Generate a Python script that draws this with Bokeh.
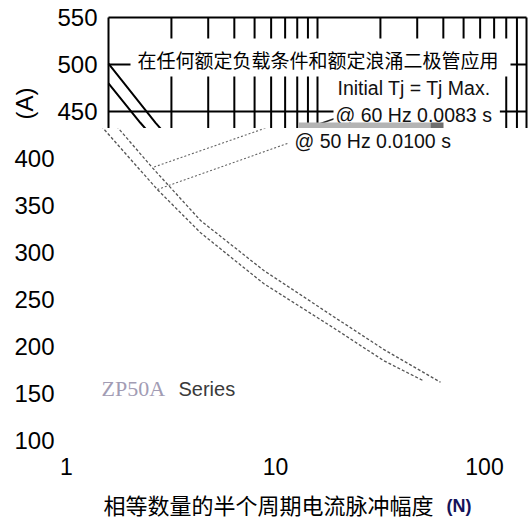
import math

from bokeh.core.properties import value
from bokeh.embed import file_html
from bokeh.layouts import column
from bokeh.models import BoxAnnotation, Label, Range1d
from bokeh.plotting import figure
from bokeh.resources import INLINE

# Peak forward surge current (A) against number of equal half-cycle pulses (N)
n_60hz = [1, 1.68, 2.58, 4.38, 8.77, 18.9, 32.9, 61.6]
a_60hz = [501, 438, 390, 334, 281, 232, 197, 162]
n_50hz = [1, 1.42, 2.72, 4.38, 8.77, 18.9, 32.9, 50.5]
a_50hz = [480, 438, 367, 321, 267, 220, 185, 164]

# leader lines from the condition texts to their curves
lead60_n = [12.5, 2.58]
lead60_a = [443.6, 390.4]
lead50_n = [11.4, 2.72]
lead50_a = [416, 367]

grid_n = [1, 2, 3, 4, 5, 6, 7, 8, 9, 10, 20, 30, 40, 50, 60, 70, 80, 90, 100]
y_ticks_top = [450, 500, 550]
y_ticks_bottom = [100, 150, 200, 250, 300, 350, 400]
x_ticks = [1, 10, 100]

DEC = 209.0   # pixels per decade on the log axis
PX_A = 0.94   # pixels per ampere
W = 528
TOP_H = 128
LOW_H = 391

SANS = "Liberation Sans"
CJK = "Noto Sans CJK SC"


def a_at(py):
    """Current value sitting at a given page row."""
    return 550 - (py - 17) / PX_A


def n_top(px):
    """Pulse count at a given column of the gridded band."""
    return 10 ** ((px - 108) / DEC)


def n_low(px):
    """Pulse count at a given column of the lower band."""
    return 10 ** ((px - 66) / DEC)


def band(height, x_range, y_range):
    p = figure(width=W, height=height, x_axis_type="log",
               x_range=x_range, y_range=y_range, min_border=0,
               x_axis_location=None, y_axis_location=None, title=None,
               output_backend="svg", toolbar_location=None)
    p.outline_line_color = None
    p.grid.visible = False
    return p


# ---- upper band: gridded area with the start of the curves ----
top = band(TOP_H, Range1d(n_top(0), n_top(W)), Range1d(a_at(TOP_H), a_at(0)))

band_floor = a_at(TOP_H)
top.segment(x0=grid_n, x1=grid_n, y0=[band_floor] * len(grid_n),
            y1=[max(y_ticks_top)] * len(grid_n), line_color="black", line_width=2)
top.segment(x0=[grid_n[0]] * len(y_ticks_top), x1=[grid_n[-1]] * len(y_ticks_top),
            y0=y_ticks_top, y1=y_ticks_top, line_color="black", line_width=2)

top.text(x=[n_top(97)] * len(y_ticks_top), y=y_ticks_top,
         text=[str(v) for v in y_ticks_top], text_align="right", text_baseline="middle",
         text_font=value(SANS), text_font_size="24px", text_color="black")
top.text(x=[n_top(24)], y=[a_at(103)], text=["(A)"], angle=math.pi / 2,
         text_align="center", text_baseline="middle",
         text_font=value(SANS), text_font_size="24px", text_color="black")

top.line(n_60hz, a_60hz, line_color="black", line_width=2)
top.line(n_50hz, a_50hz, line_color="black", line_width=2)
top.line(lead60_n, lead60_a, line_color="#222222", line_width=1.5)

top.add_layout(Label(x=n_top(130), y=a_at(57), text="在任何额定负载条件和额定浪涌二极管应用",
                     text_baseline="middle", text_font=CJK, text_font_size="19px",
                     text_color="black", background_fill_color="white",
                     padding=(7, 12, 7, 4)))
top.add_layout(Label(x=n_top(335), y=a_at(88), text="Initial Tj = Tj Max.",
                     text_baseline="middle", text_font=SANS, text_font_size="19.5px",
                     text_color="#111111", background_fill_color="white",
                     padding=(2, 10, 2, 3)))
top.add_layout(Label(x=n_top(333), y=a_at(115), text="@ 60 Hz 0.0083 s",
                     text_baseline="middle", text_font=SANS, text_font_size="19.5px",
                     text_color="#111111", background_fill_color="white",
                     padding=(2, 8, 2, 3)))
# smudged shadow under the 60 Hz note
top.add_layout(BoxAnnotation(left=n_top(298), right=n_top(430), bottom=a_at(128), top=a_at(122),
                             fill_color="#b4b4b4", fill_alpha=1, line_color=None))
top.add_layout(BoxAnnotation(left=n_top(430), right=n_top(443), bottom=a_at(128), top=a_at(122),
                             fill_color="#6e6e6e", fill_alpha=1, line_color=None))

# ---- lower band: faded curve tails, tick labels and captions ----
low = band(LOW_H, Range1d(n_low(0), n_low(W)),
           Range1d(a_at(TOP_H + LOW_H), a_at(TOP_H)))

low.line(n_60hz, a_60hz, line_color="#555555", line_width=1.3, line_dash="3 2")
low.line(n_50hz, a_50hz, line_color="#555555", line_width=1.3, line_dash="3 2")
low.line(lead60_n, lead60_a, line_color="#666666", line_width=1.1, line_dash="2 2")
low.line(lead50_n, lead50_a, line_color="#666666", line_width=1.1, line_dash="2 2")

low.text(x=[n_low(54)] * len(y_ticks_bottom), y=y_ticks_bottom,
         text=[str(v) for v in y_ticks_bottom], text_align="right", text_baseline="middle",
         text_font=value(SANS), text_font_size="24px", text_color="black")
low.text(x=x_ticks, y=[a_at(466)] * len(x_ticks), text=[str(v) for v in x_ticks],
         text_align="center", text_baseline="middle",
         text_font=value(SANS), text_font_size="23px", text_color="black")

low.add_layout(Label(x=n_low(294), y=a_at(140), text="@ 50 Hz 0.0100 s",
                     text_baseline="middle", text_font=SANS, text_font_size="19.5px",
                     text_color="#111111"))
low.add_layout(Label(x=n_low(101), y=a_at(388), text="ZP50A",
                     text_baseline="middle", text_font="Liberation Serif",
                     text_font_size="22px", text_color="#a29cb4"))
low.add_layout(Label(x=n_low(178), y=a_at(388), text="Series",
                     text_baseline="middle", text_font=SANS,
                     text_font_size="20px", text_color="#3a3a3a"))
low.add_layout(Label(x=n_low(103), y=a_at(503), text="相等数量的半个周期电流脉冲幅度",
                     text_baseline="middle", text_font=CJK,
                     text_font_size="22px", text_color="black"))
low.add_layout(Label(x=n_low(446), y=a_at(505), text="(N)",
                     text_baseline="middle", text_font=SANS, text_font_style="bold",
                     text_font_size="18px", text_color="#14145a"))

layout = column(top, low, spacing=0)
open("out.html", "w").write(file_html(layout, INLINE))
